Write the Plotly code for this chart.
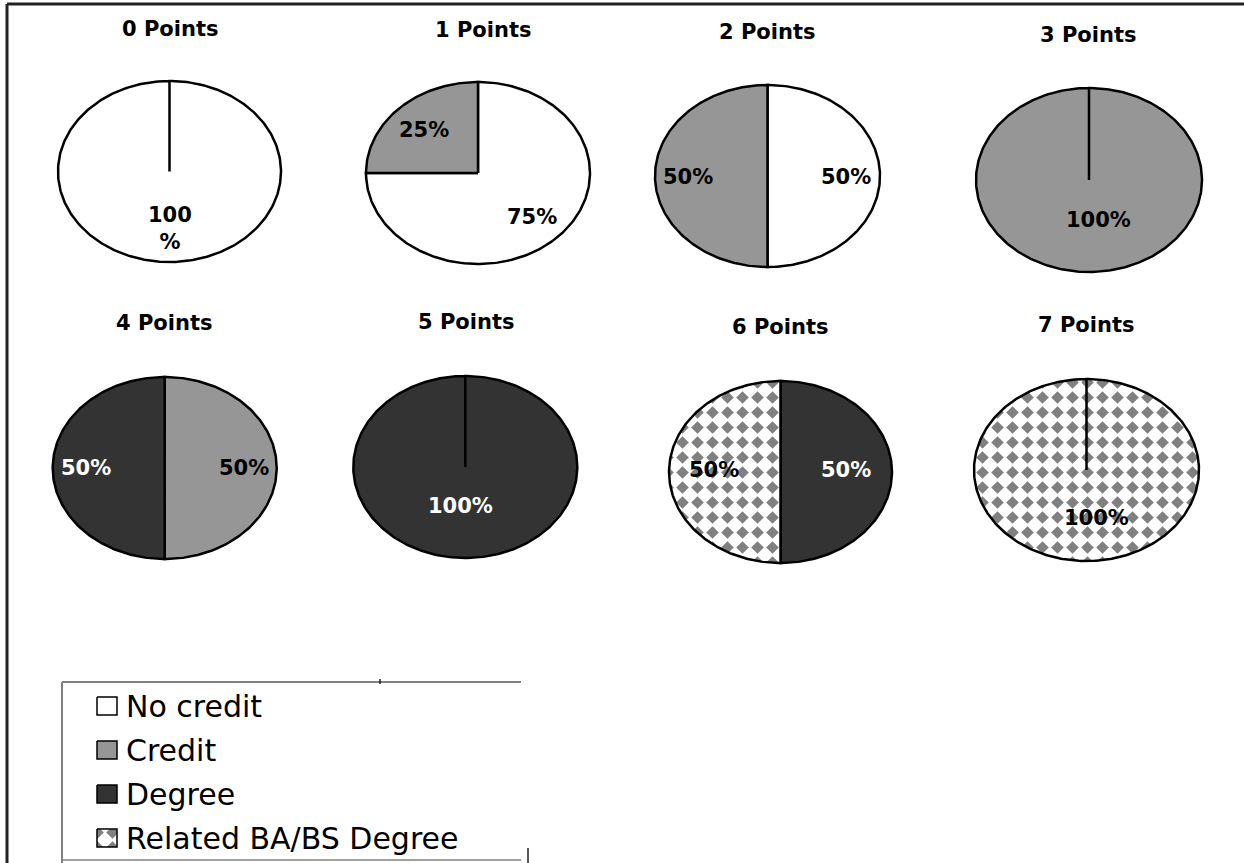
import numpy as np
import plotly.graph_objects as go

# ---- data -------------------------------------------------------------
categories = ["No credit", "Credit", "Degree", "Related BA/BS Degree"]
titles = ["0 Points", "1 Points", "2 Points", "3 Points",
          "4 Points", "5 Points", "6 Points", "7 Points"]
no_credit = [100, 75, 50, 0, 0, 0, 0, 0]
credit = [0, 25, 50, 100, 50, 0, 0, 0]
degree = [0, 0, 0, 0, 50, 100, 50, 0]
related = [0, 0, 0, 0, 0, 0, 50, 100]

# ---- styling / layout constants ----------------------------------------
W, H = 1244, 863
FONT = "DejaVu Sans"
FILL = {"No credit": "#ffffff", "Credit": "#969696",
        "Degree": "#333333", "Related BA/BS Degree": "#ffffff"}
TEXT_COLOR = {"No credit": "black", "Credit": "black",
              "Degree": "white", "Related BA/BS Degree": "black"}
DIAMONDS = dict(shape="", path="M7.5,1.2L13.8,7.5L7.5,13.8L1.2,7.5Z",
                size=15, solidity=0.5, fgcolor="#808080",
                bgcolor="#ffffff", fillmode="replace")

# pie centre x, centre y, horizontal radius, vertical radius (pixels)
PIE_GEOM = [(169.5, 171.5, 111.5, 90.5), (478, 173, 112, 91),
            (767.5, 176, 112.5, 91), (1089, 180, 113, 92),
            (164.7, 468, 112, 91), (465.3, 467, 112, 91),
            (780.5, 472, 111.5, 91), (1086.5, 470, 112.5, 91)]
TITLE_POS = [(170, 29), (483, 30), (767, 32), (1088, 35),
             (164, 323), (466, 322), (780, 327), (1086, 325)]
# data-label anchor for each non-zero slice, in category order
LABEL_POS = [[(170, 228)],
             [(532, 217), (424, 130)],
             [(846, 177), (688, 177)],
             [(1098, 220)],
             [(244, 468), (86, 468)],
             [(460, 506)],
             [(846, 470), (714, 470)],
             [(1096, 518)]]
WRAP_LABEL = {0}

LEGEND_ROWS = [706, 750, 794, 838]
LEGEND_SWATCH_X = (97, 117)
LEGEND_TEXT_X = 124

series = {"No credit": no_credit, "Credit": credit,
          "Degree": degree, "Related BA/BS Degree": related}


def wedge(cx, cy, rx, ry, a0, a1):
    n = max(int((a1 - a0) / (2 * np.pi) * 360), 2)
    t = np.linspace(a0, a1, n + 1)
    xs = np.concatenate([[cx], cx + rx * np.sin(t), [cx]])
    ys = np.concatenate([[cy], cy - ry * np.cos(t), [cy]])
    return xs, ys


def area_trace(xs, ys, cat, width):
    kw = dict(x=xs, y=ys, mode="lines", fill="toself",
              fillcolor=FILL[cat], line=dict(color="black", width=width),
              hoverinfo="skip", showlegend=False)
    if cat == "Related BA/BS Degree":
        kw["fillpattern"] = DIAMONDS
    return go.Scatter(**kw)


fig = go.Figure()
annotations = []

for i, title in enumerate(titles):
    cx, cy, rx, ry = PIE_GEOM[i]
    vals = [(c, series[c][i]) for c in categories if series[c][i] > 0]
    total = sum(v for _, v in vals)
    start = 0.0
    for k, (cat, v) in enumerate(vals):
        sweep = 2 * np.pi * v / total
        xs, ys = wedge(cx, cy, rx, ry, start, start + sweep)
        fig.add_trace(area_trace(xs, ys, cat, 2.5))
        start += sweep
        lx, ly = LABEL_POS[i][k]
        txt = f"{v}<br>%" if i in WRAP_LABEL else f"{v}%"
        annotations.append(dict(
            x=lx, y=ly, xref="x", yref="y", text=txt, showarrow=False,
            xanchor="center", yanchor="middle",
            font=dict(family=FONT, size=21, color=TEXT_COLOR[cat], weight=700)))
    tx, ty = TITLE_POS[i]
    annotations.append(dict(
        x=tx, y=ty, xref="x", yref="y", text=title, showarrow=False,
        xanchor="center", yanchor="middle",
        font=dict(family=FONT, size=21, color="black", weight=700)))

# legend swatches and entries
x0, x1 = LEGEND_SWATCH_X
for cat, ry in zip(categories, LEGEND_ROWS):
    xs = [x0, x1, x1, x0, x0]
    ys = [ry - 9, ry - 9, ry + 9, ry + 9, ry - 9]
    fig.add_trace(area_trace(xs, ys, cat, 1.5))
    annotations.append(dict(
        x=LEGEND_TEXT_X, y=ry, xref="x", yref="y", text=cat, showarrow=False,
        xanchor="left", yanchor="middle",
        font=dict(family=FONT, size=30, color="black")))

shapes = [
    # outer frame (left and top edges)
    dict(type="line", x0=7, x1=7, y0=4, y1=H, line=dict(color="#222222", width=3)),
    dict(type="line", x0=7, x1=W, y0=4, y1=4, line=dict(color="#222222", width=3)),
    # legend box
    dict(type="line", x0=62, x1=521, y0=682, y1=682, line=dict(color="#808080", width=2)),
    dict(type="line", x0=62, x1=62, y0=682, y1=H, line=dict(color="#808080", width=2)),
    dict(type="line", x0=62, x1=521, y0=860, y1=860, line=dict(color="#808080", width=1.5)),
    dict(type="line", x0=528, x1=528, y0=848, y1=H, line=dict(color="#222222", width=1.5)),
    dict(type="line", x0=380, x1=380, y0=679, y1=684, line=dict(color="#222222", width=1.5)),
]
for s in shapes:
    s.update(xref="x", yref="y", layer="above")

fig.update_layout(
    width=W, height=H,
    margin=dict(l=0, r=0, t=0, b=0),
    paper_bgcolor="white", plot_bgcolor="white",
    xaxis=dict(range=[0, W], visible=False, fixedrange=True),
    yaxis=dict(range=[H, 0], visible=False, fixedrange=True),
    annotations=annotations, shapes=shapes,
    showlegend=False,
)

fig.write_html("out.html")
